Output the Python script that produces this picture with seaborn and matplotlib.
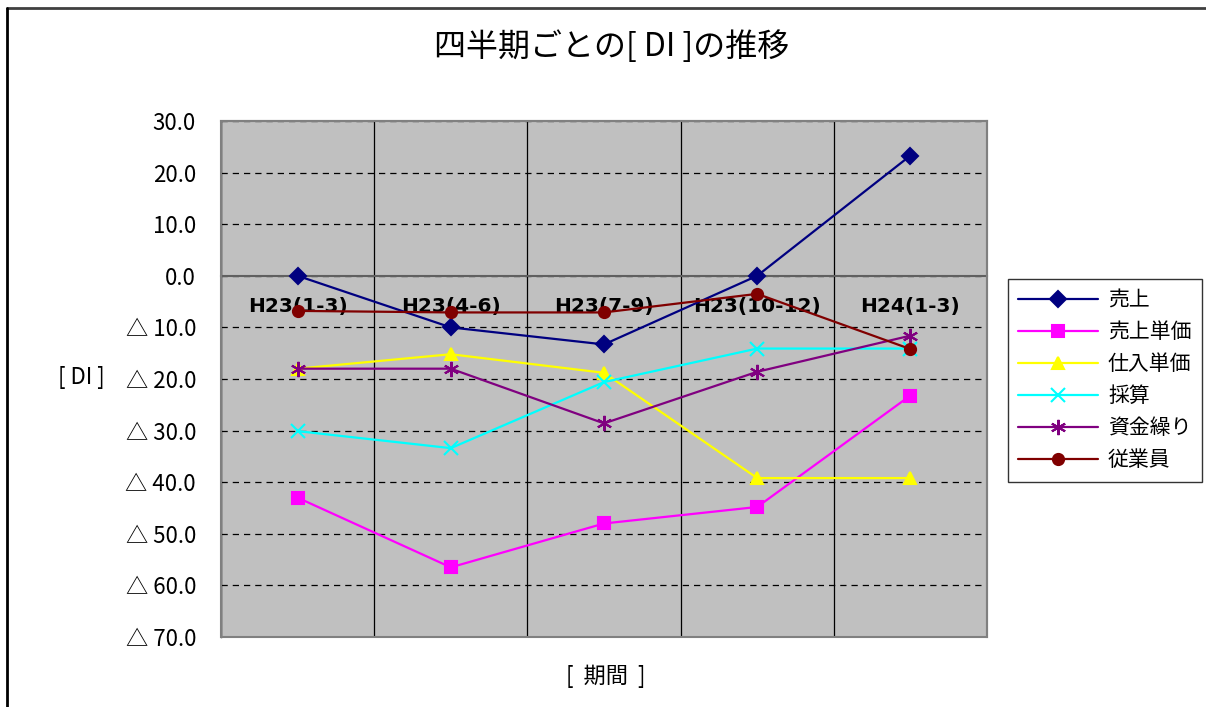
import matplotlib
matplotlib.use("Agg")
import matplotlib.pyplot as plt
import seaborn as sns
import numpy as np
import pandas as pd
from matplotlib.lines import Line2D
from matplotlib.patches import Rectangle
from matplotlib.ticker import FuncFormatter

# ========================================
# Data
# ========================================
periods = ["H23(1-3)", "H23(4-6)", "H23(7-9)", "H23(10-12)", "H24(1-3)"]

uriage = [0.0, -10.0, -13.3, 0.0, 23.3]
uriage_tanka = [-43.0, -56.5, -48.0, -44.8, -23.2]
shiire_tanka = [-18.0, -15.2, -18.8, -39.2, -39.2]
saisan = [-30.1, -33.4, -20.6, -14.1, -14.1]
shikin = [-18.0, -18.0, -28.6, -18.6, -11.6]
jugyoin = [-6.8, -7.1, -7.1, -3.5, -14.2]

series_names = ["売上", "売上単価", "仕入単価", "採算", "資金繰り", "従業員"]
series_values = [uriage, uriage_tanka, shiire_tanka, saisan, shikin, jugyoin]
series_colors = ["#000080", "#FF00FF", "#FFFF00", "#00FFFF", "#800080", "#800000"]
series_markers = ["D", "s", "^", "x", (6, 2, 0), "o"]
series_msize = [8, 8, 9, 10, 11, 8]

y_ticks = np.arange(-70, 31, 10)

# ========================================
# Plot
# ========================================
sns.set_style("white")
plt.rcParams["font.family"] = ["Noto Sans CJK JP", "DejaVu Sans"]
plt.rcParams["text.color"] = "black"
plt.rcParams["axes.labelcolor"] = "black"
plt.rcParams["xtick.color"] = "black"
plt.rcParams["ytick.color"] = "black"

fig = plt.figure(figsize=(12.06, 7.07), dpi=100)
ax = fig.add_axes([221 / 1206, 70 / 707, 766 / 1206, 516 / 707])
ax.set_facecolor("#C0C0C0")

# category axis crosses at 0 (set first: it resets the ticks)
ax.spines["bottom"].set_position(("data", 0))

x_pos = np.arange(len(periods))
for name, vals, col, mk, ms in zip(series_names, series_values, series_colors,
                                   series_markers, series_msize):
    sns.lineplot(x=x_pos, y=vals, ax=ax, color=col, marker=mk, markersize=ms,
                 markeredgecolor=col, markerfacecolor=col, markeredgewidth=1.5,
                 linewidth=1.6, label=name, legend=False, zorder=5)

ax.set_xlim(-0.5, len(periods) - 0.5)
ax.set_ylim(-70, 30)

# gridlines
ax.set_yticks(y_ticks)
ax.yaxis.set_major_formatter(FuncFormatter(
    lambda v, p: f"{v:.1f}" if v >= 0 else f"△ {abs(v):.1f}"))
ax.grid(axis="y", which="major", color="black", linestyle=(0, (5, 4)), linewidth=0.9)
ax.set_xticks(x_pos + 0.5, minor=True)
ax.grid(axis="x", which="minor", color="black", linestyle="-", linewidth=0.9)
ax.set_xticks(x_pos)
ax.tick_params(axis="x", which="both", length=0, pad=15)
ax.set_xticklabels(periods, fontsize=14.5, fontweight="bold", family="DejaVu Sans")
ax.tick_params(axis="y", direction="in", length=7, color="black", pad=18,
               labelsize=16)
for lbl in ax.get_yticklabels():
    lbl.set_family(["Noto Sans CJK JP", "DejaVu Sans"])

for s in ["top", "right"]:
    ax.spines[s].set_color("#808080")
    ax.spines[s].set_linewidth(1.5)
ax.spines["bottom"].set_color("#606060")
ax.spines["bottom"].set_linewidth(1.5)
ax.spines["left"].set_color("black")
ax.spines["left"].set_linewidth(1.0)
ax.add_patch(Rectangle((0, 0), 1, 1, transform=ax.transAxes, fill=False,
                       edgecolor="#808080", linewidth=1.5, zorder=6, clip_on=False))

ax.set_ylabel("[ DI ]", fontsize=16, rotation=0, ha="right", va="center")
ax.yaxis.set_label_coords(-0.152, 0.502)
ax.set_xlabel("[  期間  ]", fontsize=16, va="center")
ax.xaxis.set_label_coords(0.502, -0.076)

fig.text(612 / 1206, 1 - 47 / 707, "四半期ごとの[ DI ]の推移", fontsize=23,
         ha="center", va="center")

# legend
handles = [Line2D([0], [0], color=c, marker=m, markersize=ms, markerfacecolor=c,
                  markeredgecolor=c, markeredgewidth=1.5, linewidth=1.6)
           for c, m, ms in zip(series_colors, series_markers, series_msize)]
leg = fig.legend(handles, series_names, loc="upper left",
                 bbox_to_anchor=(1008 / 1206, 1 - 279 / 707), fontsize=15,
                 frameon=True, fancybox=False, edgecolor="black",
                 handlelength=3.8, handletextpad=0.5, labelspacing=0.48,
                 borderpad=0.5, borderaxespad=0)
leg.get_frame().set_linewidth(1.0)

# outer chart frame (top and left edges visible)
fig.add_artist(Line2D([7 / 1206, 1.0], [1 - 8 / 707, 1 - 8 / 707],
                      transform=fig.transFigure, color="#404040", linewidth=2))
fig.add_artist(Line2D([7 / 1206, 7 / 1206], [0.0, 1 - 8 / 707],
                      transform=fig.transFigure, color="black", linewidth=2))

plt.savefig("out.png", dpi=100)
